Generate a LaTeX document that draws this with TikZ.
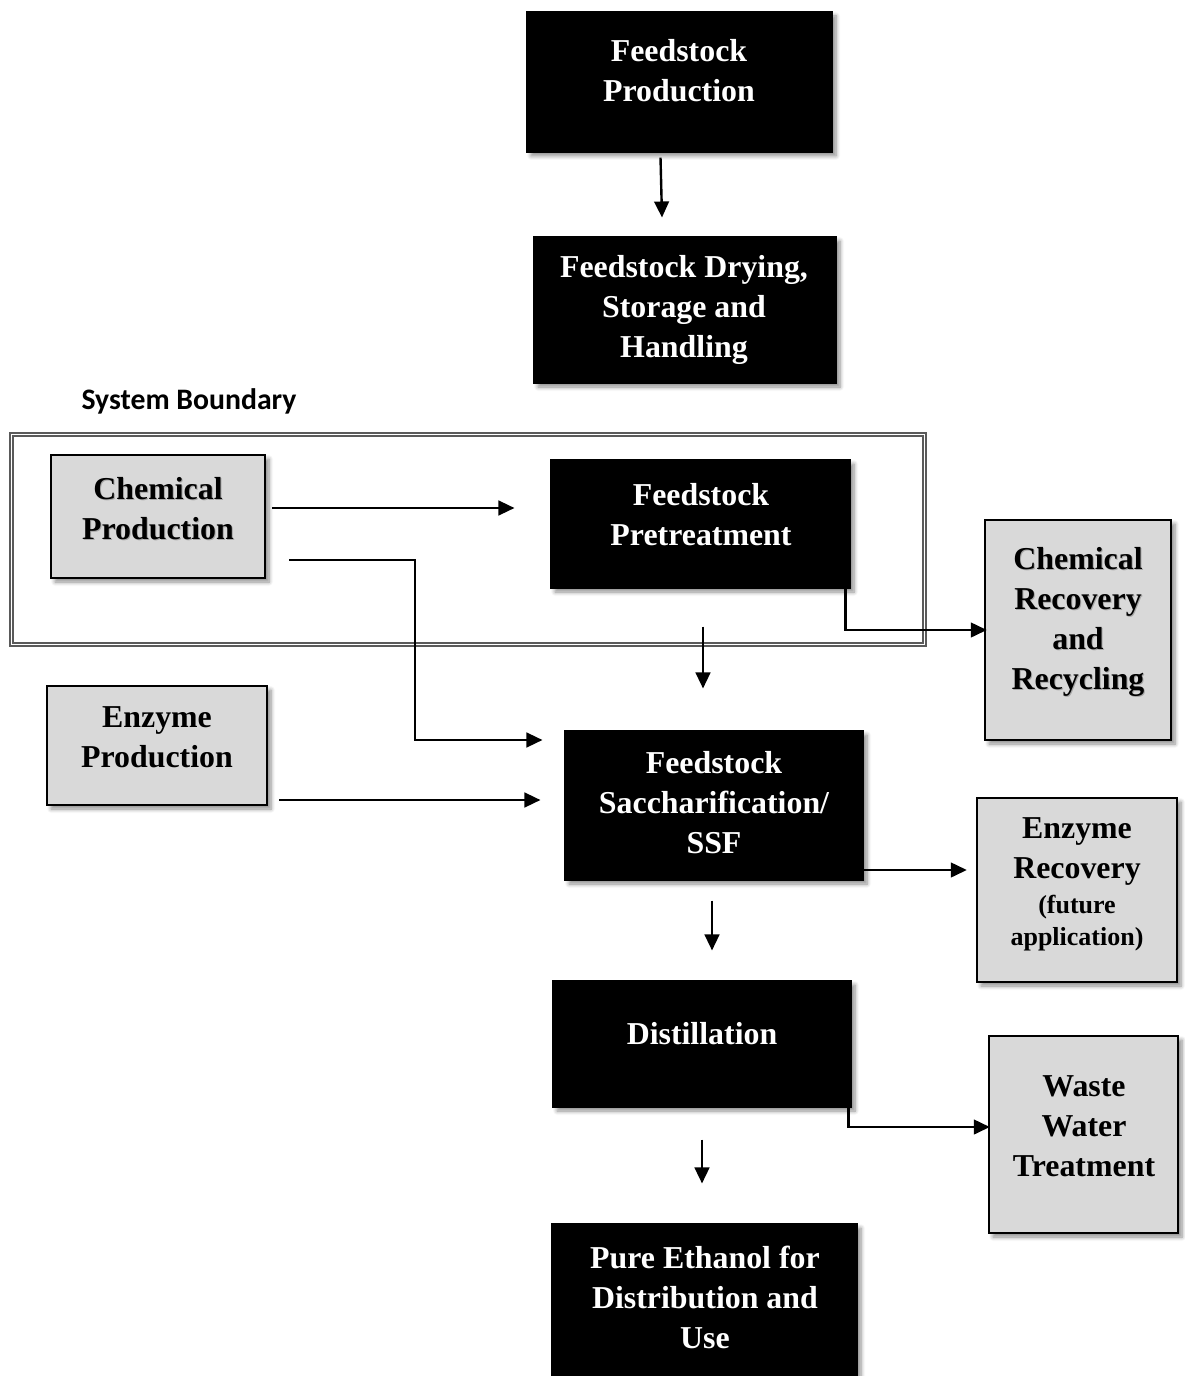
\documentclass[tikz,border=0pt]{standalone}
\usepackage{fontspec}
\setmainfont{Liberation Serif}
\newfontfamily\labelfont{Carlito}
\usetikzlibrary{arrows.meta,fit,shadows.blur,calc}
\definecolor{boxgray}{RGB}{217,217,217}
\definecolor{linegray}{RGB}{90,90,90}
\begin{document}
\begin{tikzpicture}[x=0.75pt,y=-0.75pt,
  shad/.style={blur shadow={shadow xshift=3pt,shadow yshift=-3pt,shadow blur steps=6,shadow blur radius=3pt,shadow opacity=45}},
  blackbox/.style={draw=black,fill=black,inner sep=0pt,line width=0.8pt,shad},
  graybox/.style={draw=black,fill=boxgray,inner sep=0pt,line width=1.8pt,shad},
  wtext/.style={text=white,align=center,font=\bfseries\fontsize{23.9}{30}\selectfont,inner sep=0pt},
  ktext/.style={text=black,align=center,font=\bfseries\fontsize{23.9}{30}\selectfont,inner sep=0pt},
  stext/.style={text=black,align=center,font=\bfseries\fontsize{19.5}{24}\selectfont,inner sep=0pt},
  kshadow/.style={text=black!35,align=center,font=\bfseries\fontsize{23.9}{30}\selectfont,inner sep=0pt},
  arr/.style={line width=1.8pt,-{Triangle[length=12pt,width=11pt]}},
]
\useasboundingbox (0,0) rectangle (1184,1376);

% system boundary
\node[font=\labelfont\bfseries\fontsize{22.3}{26}\selectfont,inner sep=0pt] (sblabel) at (189,401) {System Boundary};
\draw[linegray,line width=0.8pt] (10,433) rectangle (926,646);
\draw[linegray,line width=0.8pt] (13,436) rectangle (923,643);

% boxes
\node[blackbox,fit={(527,12) (832,152)}] (fp) {};
\node[wtext] (fpt) at (679,71) {Feedstock\\Production};

\node[blackbox,fit={(534,237) (836,383)}] (fd) {};
\node[wtext] (fdt) at (684,310) {Feedstock Drying,\\Storage and\\Handling};

\node[graybox,fit={(51,455) (265,578)}] (cp) {};
\node[kshadow] (cpts) at (159,510) {Chemical\\Production};
\node[ktext] (cpt) at (158,509) {Chemical\\Production};

\node[blackbox,fit={(551,460) (850,588)}] (pt) {};
\node[wtext] (ptt) at (701,515) {Feedstock\\Pretreatment};

\node[graybox,fit={(985,520) (1171,740)}] (cr) {};
\node[kshadow] (crts) at (1079,623) {Chemical\\Recovery\\and\\Recycling};
\node[ktext] (crt) at (1078,622) {Chemical\\Recovery\\and\\Recycling};

\node[graybox,fit={(47,686) (267,805)}] (ep) {};
\node[ktext] (ept) at (157,737) {Enzyme\\Production};

\node[blackbox,fit={(565,731) (863,880)}] (sa) {};
\node[wtext] (sat) at (714,803) {Feedstock\\Saccharification/\\SSF};

\node[graybox,fit={(977,798) (1177,982)}] (er) {};
\node[ktext] (ert) at (1077,851) {Enzyme\\Recovery};
\node[stext] (ers) at (1077,923) {(future\\application)};

\node[blackbox,fit={(553,981) (851,1107)}] (di) {};
\node[wtext] (dit) at (702,1034) {Distillation};

\node[graybox,fit={(989,1036) (1178,1233)}] (ww) {};
\node[ktext] (wwt) at (1084,1126) {Waste\\Water\\Treatment};

\node[blackbox,fit={(552,1224) (857,1390)}] (pe) {};
\node[wtext] (pet) at (705,1297) {Pure Ethanol for\\Distribution and\\Use};

% connectors
\draw[arr] ($(fp.south)+(-19,5)$) -- ($(fd.north)+(-23,-19)$);
\draw[arr] ($(cp.east)+(6,-8.5)$) -- ($(pt.west)+(-36,-16)$);
\draw[arr] ($(cp.east)+(23,43.5)$) -| (415,740) -- ($(sa.west)+(-22,-65.5)$);
\draw[arr] ($(pt.south east)+(-5,0)$) |- ($(cr.west)+(3,0)$);
\draw[arr] ($(pt.south)+(2.5,38)$) -- ($(sa.north)+(-11,-42)$);
\draw[arr] ($(ep.east)+(11,54.5)$) -- ($(sa.west)+(-24,-5.5)$);
\draw[arr] ($(sa.east)+(0,64.5)$) -- ($(er.west)+(-9,-20)$);
\draw[arr] ($(sa.south)+(-2,20)$) -- ($(di.north)+(10,-30)$);
\draw[arr] ($(di.south east)+(-3,0)$) |- ($(ww.west)+(2,-7.5)$);
\draw[arr] ($(di.south)+(0,32)$) -- ($(pe.north)+(-2.5,-40)$);
\end{tikzpicture}
\end{document}
